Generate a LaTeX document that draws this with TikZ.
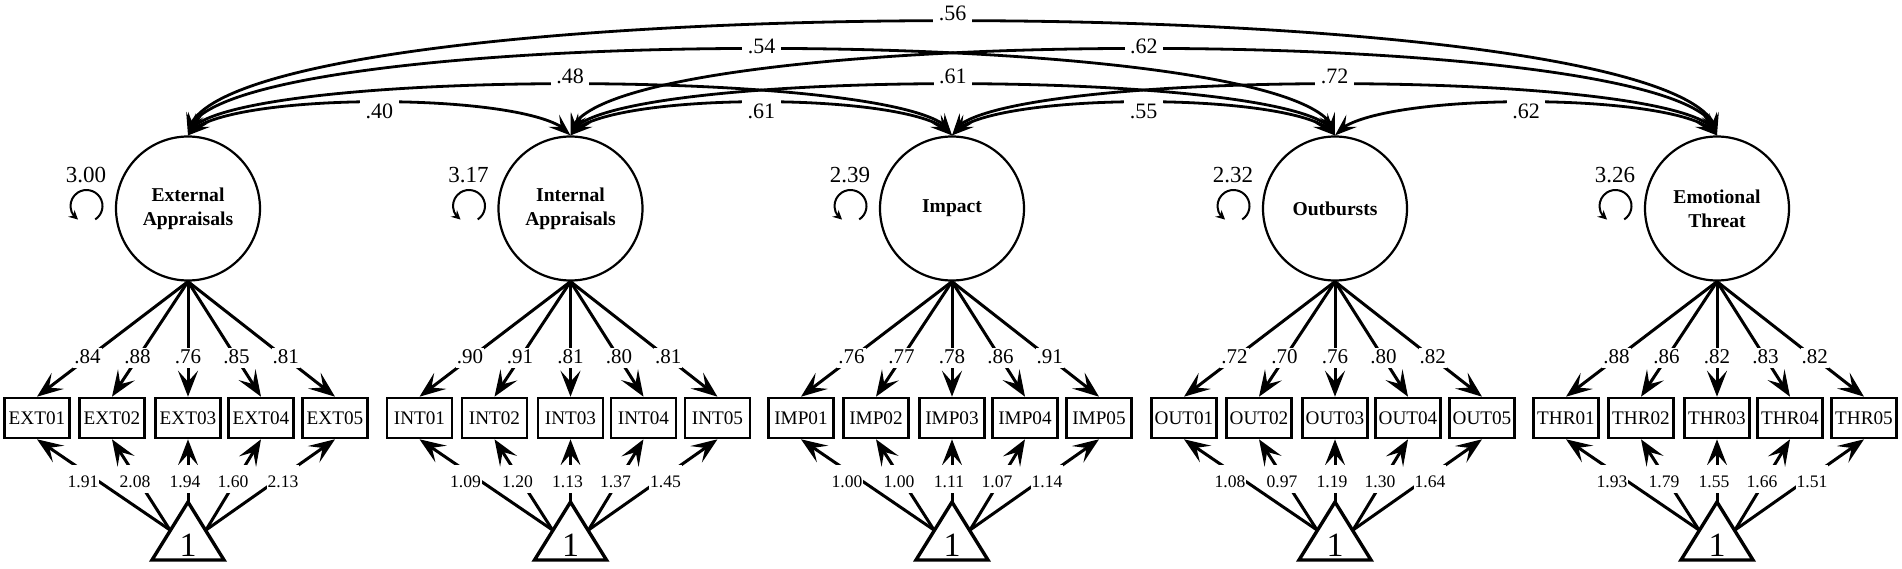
\documentclass[tikz,border=0pt]{standalone}
\usepackage{fontspec}
\setmainfont{Liberation Serif}
\usetikzlibrary{arrows.meta,bending,calc}

\tikzset{
  latent/.style={circle, draw, line width=1.1pt, minimum size=72pt, inner sep=0pt, align=center, font=\bfseries\fontsize{9.8}{12}\selectfont},
  obs/.style={rectangle, draw, line width=1.3pt, minimum width=32.5pt, minimum height=20pt, inner sep=0pt, font=\fontsize{9.6}{11}\selectfont},
  tri/.style={draw, line width=1.7pt, line join=miter},
  onelab/.style={inner sep=0pt, font=\fontsize{17}{19}\selectfont},
  load/.style={line width=1.5pt, -{Stealth[length=13pt,width=10pt,inset=5.5pt]}},
  icpt/.style={line width=1.5pt, -{Stealth[length=13pt,width=10pt,inset=5.5pt]}},
  cov/.style={line width=1.4pt, {Stealth[length=11pt,width=8pt,inset=4.5pt,flex]}-{Stealth[length=11pt,width=8pt,inset=4.5pt,flex]}},
  covlab/.style={fill=white, inner xsep=2.75pt, inner ysep=3pt, font=\fontsize{11}{13}\selectfont},
  loadlab/.style={fill=white, inner xsep=0.5pt, inner ysep=0pt, text height=7.5pt, text depth=2.5pt, font=\fontsize{10.5}{12}\selectfont},
  icptlab/.style={fill=white, inner xsep=0.5pt, inner ysep=0pt, text height=11pt, text depth=3pt, anchor=base, font=\fontsize{8.8}{10}\selectfont},
  varlab/.style={inner sep=0pt, font=\fontsize{11.5}{13}\selectfont},
  loopar/.style={line width=1pt, -{Stealth[length=4.5pt,width=4.5pt,inset=1.5pt]}},
}

% #1 index, #2 centre x, #3 latent name, #4 prefix, #5 variance, #6 loadings, #7 intercepts
\newcommand\mygroup[7]{%
  \node[latent] (L#1) at (#2,-208.5) {#3};
  \node[varlab] (V#1) at (#2-102,-175) {#5};
  \draw[loopar] ($(#2-101.5,-206)+(-57:16)$) arc[start angle=-57, end angle=238, radius=16];
  \foreach \dx [count=\i] in {-151,-76,0,73,147} {
    \node[obs] (B#1-\i) at (#2+\dx,-418) {#4{}0\i};
  }
  \foreach \v [count=\i] in {#6} {
    \draw[load] (L#1.south) -- node[loadlab, pos=0.665] {\v} (B#1-\i.north);
  }
  \draw[tri] (#2,-502) -- (#2+36,-560) -- (#2-36,-560) -- cycle;
  \node[onelab] (T#1) at (#2,-545) {1};
  \coordinate (TL#1) at (#2-18,-530);
  \coordinate (TR#1) at (#2+18,-530);
  \coordinate (TA#1) at (#2,-502);
  \draw[icpt] (TL#1) -- (B#1-1.south);
  \draw[icpt] (TL#1) -- (B#1-2.south);
  \draw[icpt] (TA#1) -- (B#1-3.south);
  \draw[icpt] (TR#1) -- (B#1-4.south);
  \draw[icpt] (TR#1) -- (B#1-5.south);
  \foreach \v [count=\i] in {#7} {
    \pgfmathsetmacro\ox{{-105,-53,-3,45,95}[\i-1]}
    \node[icptlab] at (#2+\ox,-487) {\v};
  }
}

% #1 from, #2 to, #3 horizontal control offset, #4 control height, #5 label, #6 label shift
\newcommand\mycov[6]{%
  \draw[cov] (L#1.north) .. controls ($(L#1.north)+(#3,#4)$) and ($(L#2.north)+(-#3,#4)$) .. (L#2.north)
    node[covlab, pos=0.5, yshift=#6] {#5};
}

\begin{document}
\begin{tikzpicture}[x=0.5pt,y=0.5pt]
\useasboundingbox (0,0) rectangle (1902,-568);

\mygroup{1}{188}{External\\Appraisals}{EXT}{3.00}{.84,.88,.76,.85,.81}{1.91,2.08,1.94,1.60,2.13}
\mygroup{2}{570.5}{Internal\\Appraisals}{INT}{3.17}{.90,.91,.81,.80,.81}{1.09,1.20,1.13,1.37,1.45}
\mygroup{3}{952}{Impact}{IMP}{2.39}{.76,.77,.78,.86,.91}{1.00,1.00,1.11,1.07,1.14}
\mygroup{4}{1335}{Outbursts}{OUT}{2.32}{.72,.70,.76,.80,.82}{1.08,0.97,1.19,1.30,1.64}
\mygroup{5}{1717}{Emotional\\Threat}{THR}{3.26}{.88,.86,.82,.83,.82}{1.93,1.79,1.55,1.66,1.51}

\mycov{1}{5}{0}{153}{.56}{3.5pt}
\mycov{1}{4}{0}{116}{.54}{1pt}
\mycov{2}{5}{0}{116}{.62}{1pt}
\mycov{1}{3}{10}{69}{.48}{3.75pt}
\mycov{2}{4}{10}{69}{.61}{3.75pt}
\mycov{3}{5}{10}{69}{.72}{3.75pt}
\mycov{1}{2}{25}{45}{.40}{-4.9pt}
\mycov{2}{3}{25}{45}{.61}{-4.9pt}
\mycov{3}{4}{25}{45}{.55}{-4.9pt}
\mycov{4}{5}{25}{45}{.62}{-4.9pt}
\end{tikzpicture}
\end{document}
